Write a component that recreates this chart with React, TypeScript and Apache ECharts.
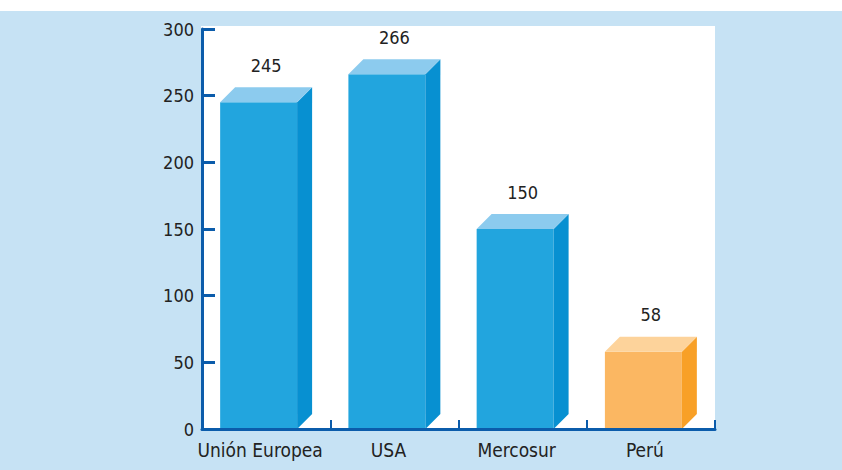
import React, { useEffect, useRef } from "react";
import * as echarts from "echarts";

const categories = ["Unión Europea", "USA", "Mercosur", "Perú"];
const values = [245, 266, 150, 58];
const yTicks = { min: 0, max: 300, interval: 50 };

const FONT = '"Liberation Sans Narrow", "DejaVu Sans Condensed", "Open Sans", sans-serif';
const AXIS = "#0b5cab";
const TEXT = "#222222";
const BLUE = { front: "#22a5de", side: "#0790d1", top: "#8ccbee" };
const ORANGE = { front: "#fbb762", side: "#f8a027", top: "#fdd39b" };

export default function App() {
  const ref = useRef<HTMLDivElement>(null);
  useEffect(() => {
    if (!ref.current) return;
    const chart = echarts.init(ref.current, null, { renderer: "svg" });
    const depth = 15;
    chart.setOption({
      animation: false,
      backgroundColor: "#ffffff",
      graphic: [
        { type: "rect", z: -100, shape: { x: 0, y: 11, width: 842, height: 459 }, style: { fill: "#c6e2f4" } },
        { type: "rect", z: -99, shape: { x: 201, y: 26, width: 514, height: 404 }, style: { fill: "#ffffff" } },
      ],
      grid: { left: 202, right: 127, top: 29, bottom: 41 },
      xAxis: {
        type: "category",
        data: categories,
        axisLine: { lineStyle: { color: AXIS, width: 3 } },
        axisTick: { show: true, inside: true, length: 9, interval: 0, lineStyle: { color: AXIS, width: 2 } },
        axisLabel: { color: TEXT, fontSize: 19, fontFamily: FONT, margin: 11, interval: 0, padding: [0, 12, 0, 0] },
        z: 5,
      },
      yAxis: {
        type: "value",
        min: yTicks.min,
        max: yTicks.max,
        interval: yTicks.interval,
        axisLine: { show: true, lineStyle: { color: AXIS, width: 3 } },
        axisTick: { show: true, inside: true, length: 13, lineStyle: { color: AXIS, width: 3 } },
        axisLabel: { color: TEXT, fontSize: 18, fontFamily: FONT, margin: 8 },
        splitLine: { show: false },
      },
      series: [
        {
          type: "custom",
          data: values.map((v, i) => [i, v]),
          renderItem: (params: any, api: any) => {
            const idx = api.value(0);
            const val = api.value(1);
            const top = api.coord([idx, val]);
            const bottom = api.coord([idx, 0]);
            const band = api.size([1, 0])[0];
            const fw = band * 0.6;
            const x0 = top[0] - (fw + depth) / 2;
            const yT = top[1];
            const yB = bottom[1];
            const c = categories[idx] === "Perú" ? ORANGE : BLUE;
            return {
              type: "group",
              children: [
                { type: "rect", shape: { x: x0, y: yT, width: fw, height: yB - yT }, style: { fill: c.front } },
                {
                  type: "polygon",
                  shape: { points: [[x0 + fw, yT], [x0 + fw + depth, yT - depth], [x0 + fw + depth, yB - depth], [x0 + fw, yB]] },
                  style: { fill: c.side },
                },
                {
                  type: "polygon",
                  shape: { points: [[x0, yT], [x0 + depth, yT - depth], [x0 + fw + depth, yT - depth], [x0 + fw, yT]] },
                  style: { fill: c.top },
                },
                {
                  type: "text",
                  style: {
                    text: String(val),
                    x: top[0],
                    y: yT - depth - 22,
                    align: "center",
                    verticalAlign: "middle",
                    fill: TEXT,
                    font: `18px ${FONT}`,
                  },
                },
              ],
            };
          },
        },
      ],
    });
    return () => chart.dispose();
  }, []);
  return <div ref={ref} style={{ position: "absolute", left: 0, top: 0, width: 842, height: 470 }} />;
}
